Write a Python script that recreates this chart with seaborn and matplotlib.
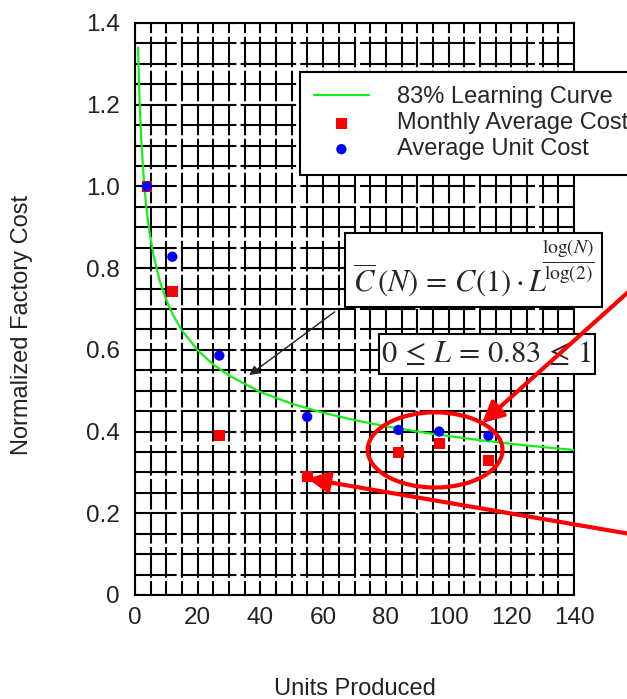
import numpy as np
import pandas as pd
import seaborn as sns
import matplotlib.pyplot as plt
from matplotlib.patches import Ellipse, Rectangle
from matplotlib.ticker import MultipleLocator, FixedLocator, FixedFormatter

# data
units = [3.8, 11.9, 26.9, 54.9, 84.0, 97.0, 112.7]
monthly_avg_cost = [1.00, 0.742, 0.39, 0.29, 0.349, 0.37, 0.33]
avg_unit_cost = [1.00, 0.828, 0.586, 0.436, 0.404, 0.40, 0.39]

curve_n = [1, 1.25, 1.5, 2, 3, 4, 5, 6, 8, 10, 12, 15, 20, 25, 30, 40, 50,
           60, 70, 80, 90, 100, 110, 120, 130, 140]
curve_cost = [1.34, 1.262, 1.202, 1.112, 0.997, 0.923, 0.870, 0.828, 0.766,
              0.722, 0.687, 0.647, 0.599, 0.564, 0.537, 0.497, 0.468, 0.446,
              0.428, 0.413, 0.400, 0.389, 0.379, 0.370, 0.362, 0.355]

x_ticks = [0, 20, 40, 60, 80, 100, 120, 140]
y_ticks = [0, 0.2, 0.4, 0.6, 0.8, 1.0, 1.2, 1.4]
y_tick_labels = ['0', '0.2', '0.4', '0.6', '0.8', '1.0', '1.2', '1.4']

sns.set_style('white')
plt.rcParams['font.family'] = ['Liberation Sans', 'DejaVu Sans']
plt.rcParams['mathtext.fontset'] = 'stix'
plt.rcParams['lines.scale_dashes'] = False

fig = plt.figure(figsize=(6.27, 6.99), dpi=100)
ax = fig.add_axes([0.2153, 0.1488, 0.7002, 0.8183])

curve_df = pd.DataFrame({'N': curve_n, 'cost': curve_cost})
sns.lineplot(data=curve_df, x='N', y='cost', color='#14f014', lw=1.6,
             ax=ax, label='83% Learning Curve', zorder=4)
sns.scatterplot(x=units, y=monthly_avg_cost, marker='s', color='#ff0000',
                s=60, edgecolor='none', ax=ax, label='Monthly Average Cost',
                zorder=5)
sns.scatterplot(x=units, y=avg_unit_cost, marker='o', color='#0000ff',
                s=55, edgecolor='none', ax=ax, label='Average Unit Cost',
                zorder=6)

ax.set_xlim(0, 140)
ax.set_ylim(0, 1.4)
ax.xaxis.set_major_locator(FixedLocator(x_ticks))
ax.yaxis.set_major_locator(FixedLocator(y_ticks))
ax.yaxis.set_major_formatter(FixedFormatter(y_tick_labels))
ax.xaxis.set_minor_locator(MultipleLocator(5))
ax.yaxis.set_minor_locator(MultipleLocator(0.05))
ax.tick_params(which='both', length=0, labelsize=17.5, colors='#222222')
ax.tick_params(axis='x', pad=9)
ax.tick_params(axis='y', pad=11)

# dense black grid with small breaks
ax.xaxis.grid(True, which='both', color='black', lw=1.5,
              linestyle=(12, (22, 2.5)))
ax.yaxis.grid(True, which='both', color='black', lw=1.5,
              linestyle=(10, (40, 3)))
ax.set_axisbelow(True)
for sp in ax.spines.values():
    sp.set_color('black')
    sp.set_linewidth(1.5)

ax.set_xlabel('Units Produced', fontsize=17, color='#222222')
ax.set_ylabel('Normalized Factory Cost', fontsize=17, color='#222222')
ax.xaxis.set_label_coords(0.5, -0.145)
ax.yaxis.set_label_coords(-0.232, 0.472)

leg = ax.legend(loc='upper left', bbox_to_anchor=(0.376, 0.914),
                fontsize=17, frameon=True, fancybox=False, edgecolor='black',
                framealpha=1, borderpad=0.6, handlelength=2.3,
                handletextpad=1.2, labelspacing=0.17, borderaxespad=0)
leg.get_frame().set_linewidth(1.5)
leg.set_zorder(10)

# formula boxes
ax.add_patch(Rectangle((67.0, 0.705), 81.9, 0.181, facecolor='white',
                       edgecolor='black', lw=1.5, clip_on=False, zorder=8))
ax.text(69.5, 0.742, r'$\overline{C}\,(N) \,=\, C(1)\cdot L$', fontsize=22,
        ha='left', va='baseline', zorder=9)
ax.text(138.3, 0.815, r'$\frac{\log(N)}{\log(2)}$', fontsize=20,
        ha='center', va='center', zorder=9)
ax.add_patch(Rectangle((77.8, 0.541), 68.9, 0.098, facecolor='white',
                       edgecolor='black', lw=1.5, clip_on=False, zorder=8))
ax.text(112.2, 0.590, r'$0\,\leq\,L\,=\,0.83\,\leq\,1$', fontsize=22,
        ha='center', va='center', zorder=9)

# pointer from formula to curve
ax.annotate('', xy=(35.7, 0.534), xytext=(64.4, 0.697),
            arrowprops=dict(arrowstyle='-|>', color='#222222', lw=1,
                            mutation_scale=14), zorder=7)

# red highlights
ax.add_patch(Ellipse((95.7, 0.355), 43, 0.184, fill=False, edgecolor='red',
                     lw=3, zorder=11))
ax.annotate('', xy=(110, 0.416), xytext=(167.4, 0.811), annotation_clip=False,
            arrowprops=dict(arrowstyle='-|>', color='red', lw=3,
                            mutation_scale=32), zorder=12)
ax.annotate('', xy=(54.2, 0.286), xytext=(165, 0.14), annotation_clip=False,
            arrowprops=dict(arrowstyle='-|>', color='red', lw=3,
                            mutation_scale=32), zorder=12)

plt.savefig('out.png', dpi=100)
